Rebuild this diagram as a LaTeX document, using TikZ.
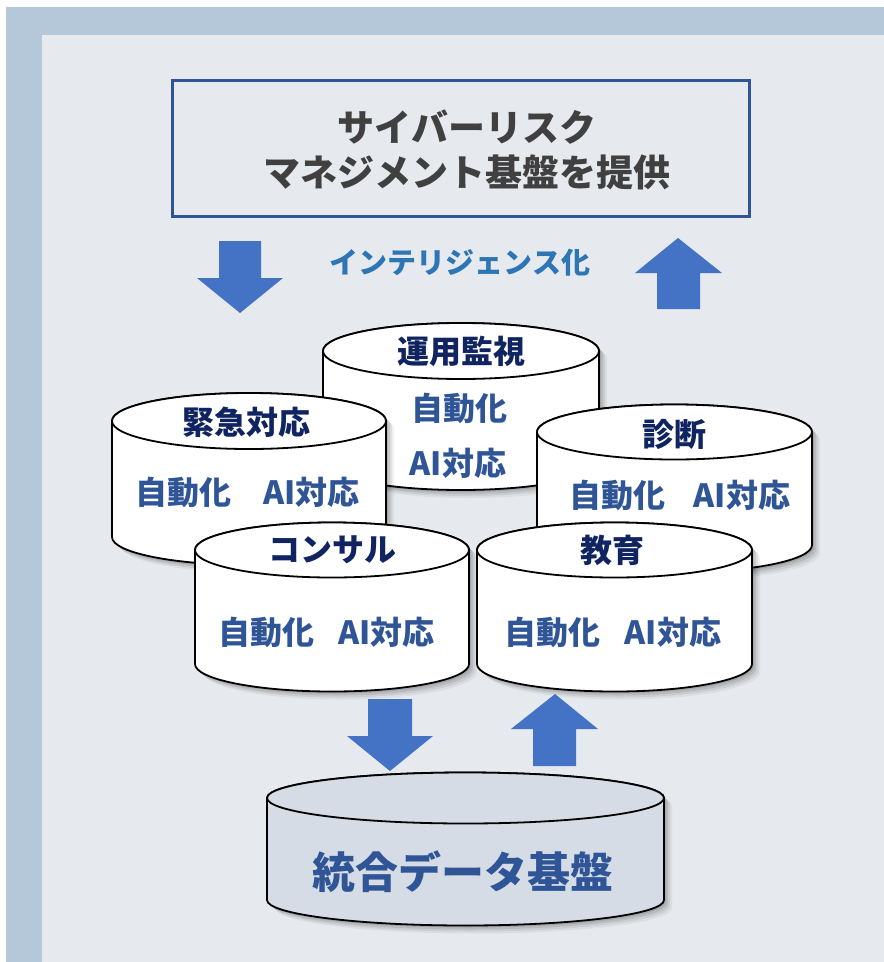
\documentclass[tikz,border=0pt]{standalone}
\usepackage{fontspec}
\setmainfont{Noto Sans CJK JP}
\definecolor{outerbg}{HTML}{B4C8DA}
\definecolor{panel}{HTML}{E6EAEE}
\definecolor{boxblue}{HTML}{2F5597}
\definecolor{arrowblue}{HTML}{4472C4}
\definecolor{intel}{HTML}{2E75B6}
\definecolor{navy}{HTML}{0F2460}
\definecolor{rowblue}{HTML}{2F5597}
\definecolor{basefill}{HTML}{D6DCE5}
\definecolor{titlegray}{HTML}{404040}
\tikzset{
  cyltitle/.style={font=\fontsize{32}{36}\selectfont\bfseries, text=navy, inner sep=0pt},
  cylrow/.style={font=\fontsize{32}{36}\selectfont\bfseries, text=rowblue, inner sep=0pt},
  blockarrow/.style={fill=arrowblue, draw=none},
  cylline/.style={draw=black, line width=1.8pt},
}
% #1 cx, #2 cy, #3 rx, #4 ry, #5 h, #6 fill
\newcommand\drawcyl[6]{%
  \foreach \s/\o in {2/0.10,4/0.09,6/0.07,8/0.05}{%
    \fill[black,opacity=\o,shift={(\s,\s)}] ({#1-#3},#2) -- ({#1-#3},{#2+#5})
      arc[start angle=180,end angle=0,x radius=#3,y radius=#4]
      -- ({#1+#3},#2) arc[start angle=0,end angle=-180,x radius=#3,y radius=#4] -- cycle;
  }%
  \path[cylline, fill=#6] ({#1-#3},#2) -- ({#1-#3},{#2+#5})
      arc[start angle=180,end angle=0,x radius=#3,y radius=#4]
      -- ({#1+#3},#2) arc[start angle=0,end angle=-180,x radius=#3,y radius=#4] -- cycle;
  \path[cylline, fill=#6] (#1,#2) ellipse[x radius=#3, y radius=#4];
}
\begin{document}
\begin{tikzpicture}[x=1pt,y=-1pt]
\useasboundingbox (0,0) rectangle (884,962);
\fill[white] (0,0) rectangle (884,962);
\fill[outerbg] (6,7) rectangle (884,962);
\fill[panel] (42,35) rectangle (884,962);

% top box
\node[draw=boxblue, line width=3pt, minimum width=577pt, minimum height=136pt, inner sep=0pt] (topbox) at (460.5,148) {};
\node[align=center, text=titlegray, font=\fontsize{37}{45}\selectfont\bfseries, inner sep=0pt] (toptext) at (467,150) {サイバーリスク\\マネジメント基盤を提供};

% upper arrows and label
\fill[blockarrow] (219,241) -- (261,241) -- (261,278) -- (283,278) -- (240,313) -- (197,278) -- (219,278) -- cycle;
\fill[blockarrow] (678,238) -- (722,273) -- (700,273) -- (700,309) -- (657,309) -- (657,273) -- (635,273) -- cycle;
\node[text=intel, font=\fontsize{29}{32}\selectfont\bfseries, inner sep=0pt] (intel) at (460,263) {インテリジェンス化};

% cylinders
\drawcyl{461}{351}{138}{28}{111}{white}
\node[cyltitle] (t1) at (461,351) {運用監視};
\node[cylrow] (r1a) at (459,408) {自動化};
\node[cylrow] (r1b) at (458,463) {AI対応};

\drawcyl{249}{421}{137}{28}{116}{white}
\node[cyltitle] (t2) at (246,422) {緊急対応};
\node[cylrow] (r2) at (247.5,492) {自動化\hspace{32pt}AI対応};

\drawcyl{674.5}{432}{137.5}{27.5}{113}{white}
\node[cyltitle] (t3) at (674.5,434) {診断};
\node[cylrow] (r3) at (680,495) {自動化\hspace{28pt}AI対応};

\drawcyl{332}{550}{137}{27.5}{114}{white}
\node[cyltitle] (t4) at (332,550) {コンサル};
\node[cylrow] (r4) at (326.5,632) {自動化\hspace{24pt}AI対応};

\drawcyl{614.5}{550}{137.5}{27.5}{114}{white}
\node[cyltitle] (t5) at (612,550) {教育};
\node[cylrow] (r5) at (613,632) {自動化\hspace{24pt}AI対応};

% lower arrows
\fill[blockarrow] (368,699) -- (412,699) -- (412,736) -- (433,736) -- (390,771) -- (347,736) -- (368,736) -- cycle;
\fill[blockarrow] (555,694) -- (598,729) -- (576,729) -- (576,766) -- (533,766) -- (533,729) -- (511,729) -- cycle;

% base cylinder
\drawcyl{465.5}{798}{198.5}{25.5}{102}{basefill}
\node[text=rowblue, font=\fontsize{43}{50}\selectfont\bfseries, inner sep=0pt] (base) at (463,872) {統合データ基盤};
\end{tikzpicture}
\end{document}
